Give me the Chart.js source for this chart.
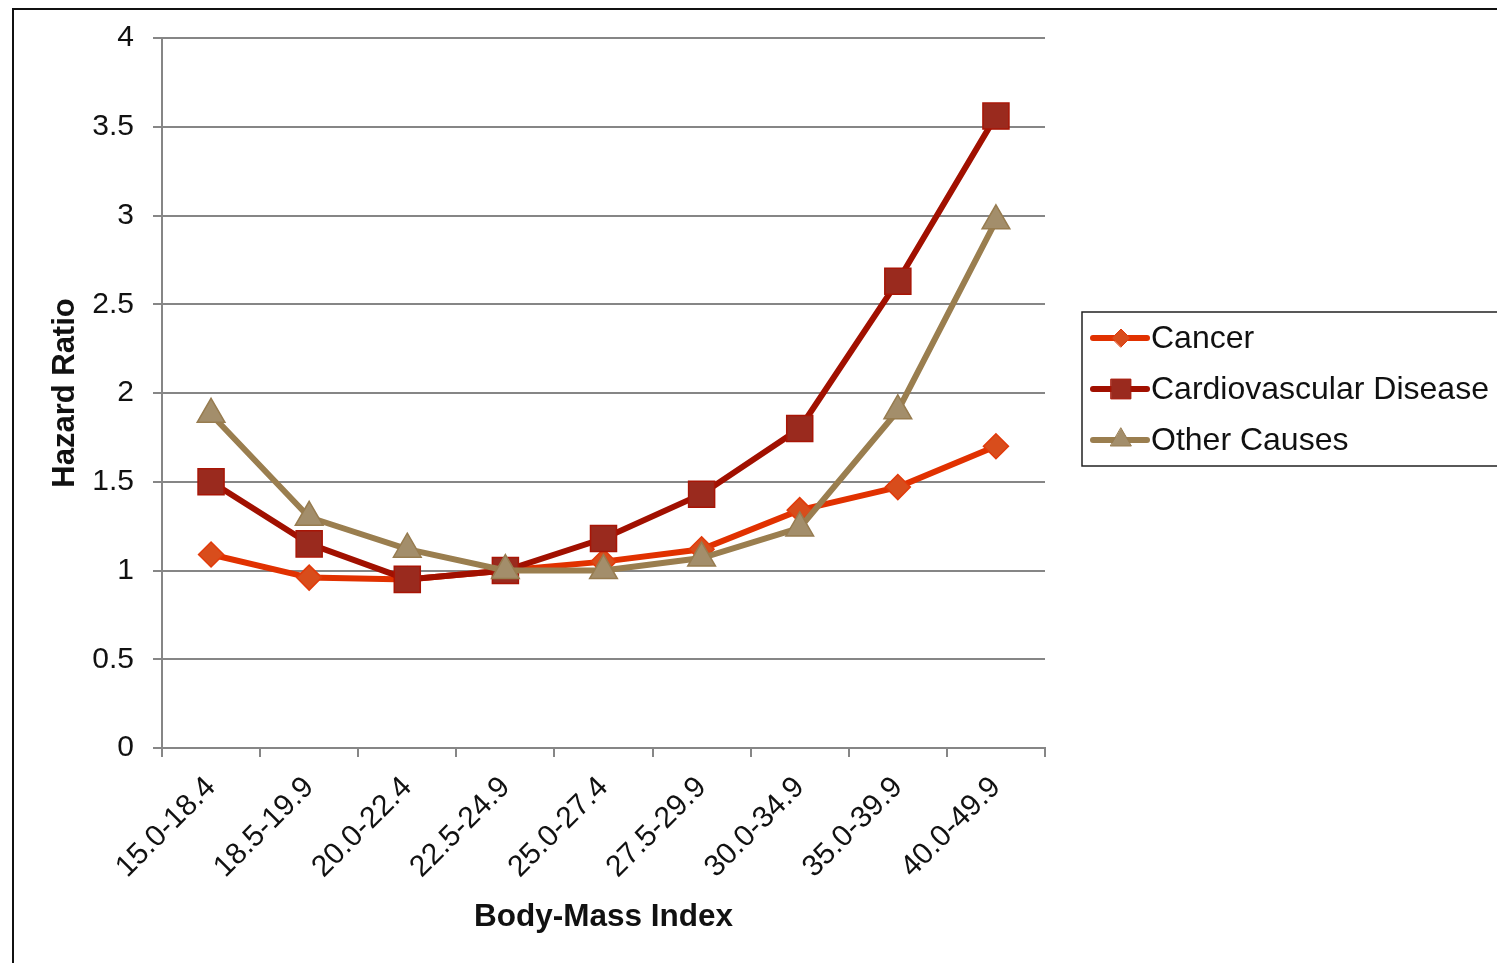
<!DOCTYPE html>
<html>
<head>
<meta charset="utf-8">
<script src="https://cdn.jsdelivr.net/npm/chart.js@4.4.1/dist/chart.umd.min.js"></script>
<style>
    html, body { margin: 0; padding: 0; background: #fff; overflow: hidden; }
    #frame { position: absolute; left: 12px; top: 8px; width: 1600px; height: 1100px; border: 2px solid #111; }
    #chart { position: absolute; left: 0; top: 0; }
</style>
</head>
<body>
<div id="frame"></div>
<canvas id="chart" width="1497" height="963"></canvas>
<script>
const bmiLabels = ['15.0-18.4', '18.5-19.9', '20.0-22.4', '22.5-24.9', '25.0-27.4', '27.5-29.9', '30.0-34.9', '35.0-39.9', '40.0-49.9'];
const cancerValues = [1.09, 0.96, 0.95, 1.0, 1.05, 1.12, 1.34, 1.47, 1.70];
const cvdValues = [1.50, 1.15, 0.95, 1.0, 1.18, 1.43, 1.80, 2.63, 3.56];
const otherValues = [1.88, 1.30, 1.12, 1.0, 1.0, 1.07, 1.24, 1.90, 2.97];
const seriesNames = ['Cancer', 'Cardiovascular Disease', 'Other Causes'];

const fontFamily = "'Liberation Sans', Arial, sans-serif";
const gridColor = '#868686';

// legend drawn as a framed box on the right, like the original
const boxLegend = {
    id: 'boxLegend',
    afterDraw(chart) {
        const ctx = chart.ctx;
        const left = 1082, top = 312, width = 440, height = 154;
        const sizes = [9, 14, 12];
        ctx.save();
        ctx.strokeStyle = '#222';
        ctx.lineWidth = 1.5;
        ctx.strokeRect(left, top, width, height);
        chart.data.datasets.forEach((ds, i) => {
            const y = top + 26 + i * 51;
            ctx.strokeStyle = ds.borderColor;
            ctx.lineWidth = 6;
            ctx.lineCap = 'round';
            ctx.beginPath();
            ctx.moveTo(left + 11, y);
            ctx.lineTo(left + 65, y);
            ctx.stroke();
            ctx.fillStyle = ds.pointBackgroundColor;
            ctx.strokeStyle = ds.pointBorderColor;
            ctx.lineWidth = 1;
            Chart.helpers.drawPoint(ctx, { pointStyle: ds.pointStyle, radius: sizes[i], borderWidth: 1 }, left + 39, y);
            ctx.fillStyle = '#111';
            ctx.font = `32px ${fontFamily}`;
            ctx.textBaseline = 'middle';
            ctx.textAlign = 'left';
            ctx.fillText(ds.label, left + 69, y + 1);
        });
        ctx.restore();
    }
};

new Chart(document.getElementById('chart'), {
    type: 'line',
    data: {
        labels: bmiLabels,
        datasets: [
            {
                label: seriesNames[0],
                data: cancerValues,
                borderColor: '#E13100',
                borderWidth: 6,
                pointStyle: 'rectRot',
                pointRadius: 12.5,
                pointBackgroundColor: '#D84D1C',
                pointBorderColor: '#E23A0A',
                pointBorderWidth: 1.5,
                order: 3
            },
            {
                label: seriesNames[1],
                data: cvdValues,
                borderColor: '#A11000',
                borderWidth: 6,
                pointStyle: 'rect',
                pointRadius: 18.4,
                pointBackgroundColor: '#9A2A1E',
                pointBorderColor: '#A81506',
                pointBorderWidth: 1.5,
                order: 2
            },
            {
                label: seriesNames[2],
                data: otherValues,
                borderColor: '#9A7E4F',
                borderWidth: 6,
                pointStyle: 'triangle',
                pointRadius: 16,
                pointBackgroundColor: '#A38E6B',
                pointBorderColor: '#977C50',
                pointBorderWidth: 1.5,
                order: 1
            }
        ]
    },
    options: {
        responsive: false,
        animation: false,
        layout: { padding: { top: 38, right: 452, left: 0, bottom: 0 } },
        plugins: {
            legend: { display: false },
            tooltip: { enabled: false }
        },
        scales: {
            x: {
                offset: true,
                grid: { display: true, drawOnChartArea: false, offset: true, color: gridColor, lineWidth: 2, tickLength: 9 },
                border: { color: gridColor, width: 2 },
                ticks: {
                    color: '#111',
                    font: { family: fontFamily, size: 30 },
                    minRotation: 45,
                    maxRotation: 45,
                    padding: 13
                },
                title: {
                    display: true,
                    text: 'Body-Mass Index',
                    color: '#111',
                    font: { family: fontFamily, size: 31.5, weight: 'bold' },
                    padding: { top: 0, bottom: 27 }
                },
                afterFit(scale) { scale.height = 215; }
            },
            y: {
                min: 0,
                max: 4,
                ticks: {
                    stepSize: 0.5,
                    color: '#111',
                    font: { family: fontFamily, size: 30 },
                    padding: 19,
                    callback: (v) => String(+v.toFixed(1))
                },
                grid: { color: gridColor, lineWidth: 2, tickLength: 9 },
                border: { color: gridColor, width: 2 },
                title: {
                    display: true,
                    text: 'Hazard Ratio',
                    color: '#111',
                    font: { family: fontFamily, size: 31, weight: 'bold' },
                    padding: { top: 47, bottom: 0 }
                },
                afterFit(scale) { scale.width = 162; }
            }
        }
    },
    plugins: [boxLegend]
});
</script>
</body>
</html>
